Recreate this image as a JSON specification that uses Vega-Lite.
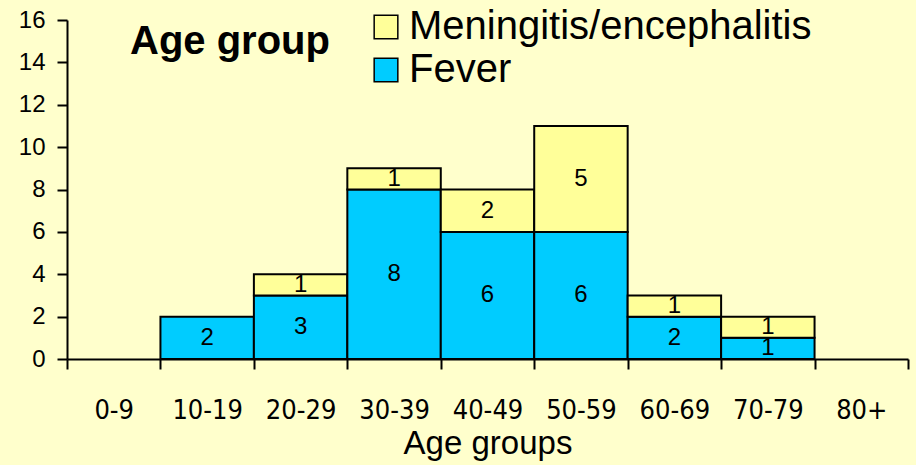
{
  "$schema": "https://vega.github.io/schema/vega-lite/v6.json",
  "width": 841,
  "height": 339,
  "autosize": {"type": "none"},
  "padding": {"left": 67, "top": 20, "right": 8, "bottom": 106},
  "background": "#FFFFCC",
  "config": {"view": {"stroke": null}, "font": "Liberation Sans"},
  "title": {"text": "Age group", "anchor": "start", "frame": "group", "orient": "top", "fontSize": 40, "fontWeight": "bold", "font": "Liberation Sans", "color": "black", "baseline": "alphabetic", "dx": 63, "dy": 87, "offset": 0},
  "data": {"values": [
    {"age": "10-19", "series": "Fever", "count": 2},
    {"age": "20-29", "series": "Fever", "count": 3},
    {"age": "20-29", "series": "Meningitis/encephalitis", "count": 1},
    {"age": "30-39", "series": "Fever", "count": 8},
    {"age": "30-39", "series": "Meningitis/encephalitis", "count": 1},
    {"age": "40-49", "series": "Fever", "count": 6},
    {"age": "40-49", "series": "Meningitis/encephalitis", "count": 2},
    {"age": "50-59", "series": "Fever", "count": 6},
    {"age": "50-59", "series": "Meningitis/encephalitis", "count": 5},
    {"age": "60-69", "series": "Fever", "count": 2},
    {"age": "60-69", "series": "Meningitis/encephalitis", "count": 1},
    {"age": "70-79", "series": "Fever", "count": 1},
    {"age": "70-79", "series": "Meningitis/encephalitis", "count": 1}
  ]},
  "transform": [
    {"stack": "count", "groupby": ["age"], "sort": [{"field": "series", "order": "ascending"}], "as": ["y0", "y1"]},
    {"calculate": "(datum.y0 + datum.y1) / 2", "as": "ymid"}
  ],
  "encoding": {
    "x": {
      "field": "age", "type": "ordinal",
      "scale": {"domain": ["0-9", "10-19", "20-29", "30-39", "40-49", "50-59", "60-69", "70-79", "80+"], "paddingInner": 0, "paddingOuter": 0},
      "axis": {"title": "Age groups", "labelAngle": 0, "tickBand": "extent", "tickSize": 10, "tickWidth": 2, "tickColor": "black", "domainColor": "black", "domainWidth": 2, "labelFont": "DejaVu Sans Condensed", "labelFontSize": 27, "labelColor": "black", "labelPadding": 28, "titleFont": "Liberation Sans", "titleFontSize": 33, "titleFontWeight": "normal", "titleColor": "black", "titlePadding": 4, "grid": false}
    }
  },
  "layer": [
    {
      "mark": {"type": "bar", "stroke": "black", "strokeWidth": 2},
      "encoding": {
        "y": {"field": "y0", "type": "quantitative", "scale": {"domain": [0, 16]},
          "axis": {"title": null, "values": [0, 2, 4, 6, 8, 10, 12, 14, 16], "grid": false, "tickSize": 10, "tickWidth": 2, "tickColor": "black", "domainColor": "black", "domainWidth": 2, "labelFontSize": 24, "labelColor": "black", "labelPadding": 12}},
        "y2": {"field": "y1"},
        "color": {"field": "series", "type": "nominal",
          "scale": {"domain": ["Meningitis/encephalitis", "Fever"], "range": ["#FFFF99", "#00CCFF"]},
          "legend": {"title": null, "orient": "none", "legendX": 299, "legendY": -13, "symbolType": "square", "symbolSize": 560, "symbolStrokeColor": "black", "symbolStrokeWidth": 1.5, "symbolOpacity": 1, "labelFontSize": 40, "labelColor": "black", "labelOffset": 3, "labelLimit": 0, "rowPadding": 3}}
      }
    },
    {
      "mark": {"type": "text", "fontSize": 24, "color": "black", "baseline": "middle"},
      "encoding": {
        "y": {"field": "ymid", "type": "quantitative"},
        "text": {"field": "count", "type": "quantitative"}
      }
    }
  ]
}
